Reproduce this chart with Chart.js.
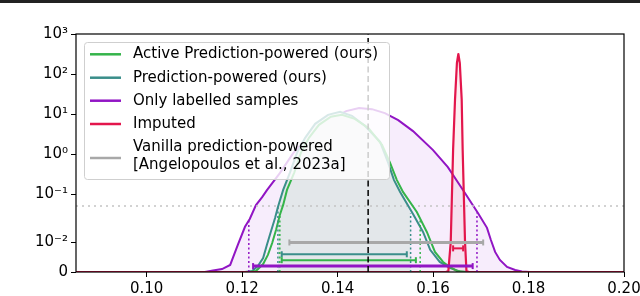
<!DOCTYPE html>
<html>
<head>
<meta charset="utf-8">
<script src="https://cdn.jsdelivr.net/npm/chart.js@4.4.1/dist/chart.umd.min.js"></script>
<style>
  html, body { margin: 0; padding: 0; background: #fff; }
  #wrap { width: 640px; height: 296px; }
</style>
</head>
<body>
<div id="wrap"><canvas id="chart" width="640" height="296"></canvas></div>
<script>
// axis ticks
const xTicks = [0.10, 0.12, 0.14, 0.16, 0.18, 0.20];
const yTicks = [0, 0.01, 0.1, 1, 10, 100, 1000];
const yTickLabels = ['0', '10⁻²', '10⁻¹', '10⁰', '10¹', '10²', '10³'];

// densities of the estimates
const labelledX = [0.0852, 0.1122, 0.1139, 0.1158, 0.1175, 0.1191, 0.1206, 0.1216, 0.1229, 0.1242, 0.1252, 0.1279, 0.1307, 0.1332, 0.1360, 0.1391, 0.1418, 0.1445, 0.1472, 0.1499, 0.1527, 0.1558, 0.1600, 0.1631, 0.1663, 0.1694, 0.1713, 0.1721, 0.1730, 0.1740, 0.1755, 0.1772, 0.1786, 0.1803, 0.2];
const labelledY = [0, 0, 0.0005, 0.001, 0.0024, 0.0092, 0.0211, 0.0307, 0.0595, 0.0868, 0.126, 0.335, 1.06, 2.24, 4.47, 7.94, 11.9, 14.1, 13.3, 10.6, 7.08, 3.76, 1.26, 0.473, 0.126, 0.0408, 0.0201, 0.0114, 0.0068, 0.0041, 0.0017, 0.0007, 0.0002, 0, 0];

const ppX = [0.1206, 0.1221, 0.1233, 0.1244, 0.1252, 0.1260, 0.1269, 0.1275, 0.1286, 0.1300, 0.1315, 0.1332, 0.1353, 0.1380, 0.1405, 0.1430, 0.1457, 0.1489, 0.1506, 0.1518, 0.1531, 0.1558, 0.1579, 0.1594, 0.1614, 0.1635, 0.1656, 0.1673];
const ppY = [0, 0.00034, 0.002, 0.0047, 0.0092, 0.0165, 0.0322, 0.0545, 0.128, 0.341, 1.08, 2.56, 5.72, 9.6, 11.4, 9.07, 5.1, 2.03, 0.606, 0.228, 0.114, 0.039, 0.0165, 0.0075, 0.0034, 0.0014, 0.0002, 0];

const activeX = [0.1216, 0.1229, 0.1244, 0.1254, 0.1263, 0.1271, 0.1279, 0.1286, 0.1294, 0.1309, 0.1323, 0.1340, 0.1361, 0.1386, 0.1409, 0.1436, 0.1464, 0.1493, 0.1510, 0.1524, 0.1537, 0.1566, 0.1587, 0.1604, 0.1621, 0.1635, 0.1650, 0.1667];
const activeY = [0, 0.00034, 0.0027, 0.0058, 0.0098, 0.0182, 0.0372, 0.06, 0.128, 0.341, 1.08, 2.56, 5.4, 8.6, 9.6, 7.63, 4.55, 1.71, 0.606, 0.228, 0.114, 0.0429, 0.0165, 0.0068, 0.0034, 0.0017, 0.00034, 0];

const imputedX = [0.0852, 0.1627, 0.1632, 0.1637, 0.1642, 0.1646, 0.1650, 0.1653, 0.1656, 0.1660, 0.1662, 0.1667, 0.1670, 0.1675, 0.2];
const imputedY = [0, 0, 0.0003, 0.01, 1.3, 23, 190, 316, 190, 23, 1.3, 0.01, 0.0003, 0, 0];

// confidence intervals: active, prediction-powered, labelled, imputed, vanilla
const seriesNames = ['Active Prediction-powered (ours)', 'Prediction-powered (ours)', 'Only labelled samples', 'Imputed', 'Vanilla prediction-powered|[Angelopoulos et al., 2023a]'];
const seriesColors = ['#35b44a', '#3a8e8a', '#9115c4', '#e3164c', '#a8a8a8'];
const ciLow = [0.1283, 0.1283, 0.1223, 0.1642, 0.1299];
const ciHigh = [0.1564, 0.1545, 0.1683, 0.1663, 0.1705];
const ciLevel = [0.004, 0.006, 0.002, 0.008, 0.010];

// dotted markers at the interval ends (x, curve height)
const markX = [[0.1279, 0.1573], [0.1275, 0.1553], [0.1214, 0.1692]];
const markY = [[0.037, 0.032], [0.0545, 0.041], [0.028, 0.042]];

const trueValue = 0.1464;
const threshold = 0.057;

// y axis: linear near zero, log above
function symPos(v) {
  if (v <= 0.01) return v * 73.75;
  if (v < 0.1) return 0.7375 + 1.205 * (Math.log10(v) + 2);
  return 2.9425 + Math.log10(v);
}
function symInv(t) {
  if (t <= 0.7375) return t / 73.75;
  if (t < 1.9425) return Math.pow(10, (t - 0.7375) / 1.205 - 2);
  return Math.pow(10, t - 2.9425);
}
class DensityScale extends Chart.LinearScale {
  buildTicks() { return yTicks.map(v => ({ value: v })); }
  getPixelForValue(v) { return this.getPixelForDecimal(symPos(Math.max(v, 0)) / symPos(this.max)); }
  getValueForPixel(p) { return symInv(this.getDecimalForPixel(p) * symPos(this.max)); }
}
DensityScale.id = 'density';
DensityScale.defaults = Chart.LinearScale.defaults;
Chart.register(DensityScale);

function pts(xs, ys) { return xs.map((x, i) => ({ x: x, y: ys[i] })); }

var datasets = [];
datasets.push({ data: [{ x: trueValue, y: 0 }, { x: trueValue, y: 1000 }], borderColor: '#000', borderWidth: 1.5, borderDash: [6, 3.5], order: 0 });
for (var i = 0; i < 5; i++) {
  datasets.push({
    data: [{ x: ciLow[i], y: ciLevel[i] }, { x: ciHigh[i], y: ciLevel[i] }],
    borderColor: seriesColors[i], borderWidth: (i >= 2 && i != 3) ? 3 : 2,
    pointStyle: 'line', pointRotation: 90, pointRadius: 3, pointBorderWidth: 2,
    pointBorderColor: seriesColors[i], order: 1
  });
}
for (var j = 0; j < 3; j++) {
  for (var k = 0; k < 2; k++) {
    datasets.push({
      data: [{ x: markX[j][k], y: 0 }, { x: markX[j][k], y: markY[j][k] }],
      borderColor: seriesColors[j], borderWidth: 1.5, borderDash: [2, 2.5], order: 2
    });
  }
}
datasets.push({ data: pts(imputedX, imputedY), borderColor: seriesColors[3], borderWidth: 2.2, borderJoinStyle: 'round', fill: 'origin', backgroundColor: 'rgba(220,20,60,0.07)', order: 3 });
datasets.push({ data: pts(activeX, activeY), borderColor: seriesColors[0], borderWidth: 2, order: 4 });
datasets.push({ data: pts(ppX, ppY), borderColor: seriesColors[1], borderWidth: 2, order: 5 });
datasets.push({ data: [{ x: 0.0852, y: threshold }, { x: 0.2, y: threshold }], borderColor: '#c4c4c4', borderWidth: 1.3, borderDash: [2, 4], order: 6 });
// shaded region under the prediction-powered curve inside its interval
var fillPts = [{ x: markX[1][0], y: markY[1][0] }].concat(pts(ppX, ppY).filter(p => p.x > markX[1][0] && p.x < markX[1][1]), [{ x: markX[1][1], y: markY[1][1] }]);
datasets.push({ data: fillPts, borderWidth: 0, borderColor: 'rgba(0,0,0,0)', fill: 'origin', backgroundColor: '#e3e7ea', order: 7 });
datasets.push({ data: pts(labelledX, labelledY), borderColor: seriesColors[2], borderWidth: 2, fill: 'origin', backgroundColor: 'rgba(148,0,211,0.07)', order: 8 });

var frameAndLegend = {
  id: 'frameAndLegend',
  afterDraw: function(chart) {
    var ctx = chart.ctx, a = chart.chartArea;
    ctx.save();
    ctx.fillStyle = '#222';
    ctx.fillRect(0, 0, 640, 3);
    ctx.strokeStyle = '#000';
    ctx.lineWidth = 1.2;
    ctx.strokeRect(a.left, a.top, a.right - a.left, a.bottom - a.top);

    // legend box
    var bx = a.left + 8, by = a.top + 8, bw = 305, bh = 137;
    ctx.beginPath();
    ctx.roundRect(bx + 0.5, by + 0.5, bw, bh, 3);
    ctx.fillStyle = 'rgba(255,255,255,0.8)';
    ctx.fill();
    ctx.strokeStyle = '#cfcfcf';
    ctx.lineWidth = 1;
    ctx.stroke();

    ctx.font = '15px "DejaVu Sans"';
    ctx.textBaseline = 'middle';
    ctx.fillStyle = '#000';
    var rows = [12.3, 35.7, 58.7, 82, 116];
    seriesNames.forEach(function(name, n) {
      var y = by + rows[n];
      ctx.beginPath();
      ctx.moveTo(bx + 6, y);
      ctx.lineTo(bx + 37, y);
      ctx.strokeStyle = seriesColors[n];
      ctx.lineWidth = 2.5;
      ctx.stroke();
      var lines = name.split('|');
      if (lines.length == 1) {
        ctx.fillText(name, bx + 49, y);
      } else {
        ctx.fillText(lines[0], bx + 49, y - 11.3);
        ctx.fillText(lines[1], bx + 49, y + 7);
      }
    });
    ctx.restore();
  }
};

var ctx = document.getElementById('chart').getContext('2d');
var chart = new Chart(ctx, {
  type: 'line',
  data: { datasets: datasets },
  options: {
    responsive: false,
    animation: false,
    layout: { padding: { top: 34, right: 16, left: 0, bottom: 0 } },
    elements: { point: { radius: 0 }, line: { tension: 0 } },
    plugins: { legend: { display: false }, tooltip: { enabled: false } },
    scales: {
      x: {
        type: 'linear', min: 0.0852, max: 0.2,
        afterBuildTicks: function(s) { s.ticks = xTicks.map(v => ({ value: v })); },
        afterFit: function(s) { s.height = 24; s.paddingLeft = 0; s.paddingRight = 0; },
        grid: { drawOnChartArea: false, drawTicks: true, tickLength: 5, color: '#000' },
        border: { display: false },
        ticks: { autoSkip: false, maxRotation: 0, padding: 3, color: '#000', font: { family: 'DejaVu Sans', size: 15 },
          callback: function(v) { return v.toFixed(2); } }
      },
      y: {
        type: 'density', min: 0, max: 1000,
        afterFit: function(s) { s.width = 76; s.paddingTop = 0; s.paddingBottom = 0; },
        grid: { drawOnChartArea: false, drawTicks: true, tickLength: 5, color: '#000' },
        border: { display: false },
        ticks: { autoSkip: false, padding: 3, color: '#000', font: { family: 'DejaVu Sans', size: 15 },
          callback: function(v) { return yTickLabels[yTicks.indexOf(v)]; } }
      }
    }
  },
  plugins: [frameAndLegend]
});
</script>
</body>
</html>
